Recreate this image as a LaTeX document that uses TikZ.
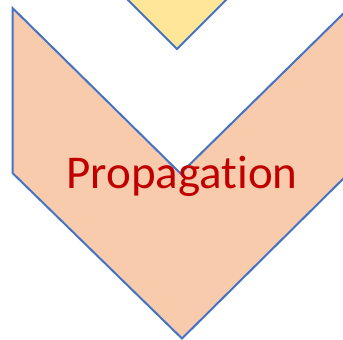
\documentclass[tikz,border=0pt]{standalone}
\usepackage{fontspec}
\setmainfont[RawFeature={-liga;-dlig}]{Carlito}
\definecolor{peach}{HTML}{F8CBAD}
\definecolor{gold}{HTML}{FFE699}
\definecolor{edge}{HTML}{4472C4}
\definecolor{darkred}{HTML}{C00000}
\begin{document}
\begin{tikzpicture}[x=1pt,y=-1pt,
  shapeline/.style={draw=edge,line width=2pt,line join=miter},
  lbl/.style={text=darkred,font=\fontsize{47}{50}\selectfont,anchor=base,inner sep=0pt}]
\useasboundingbox (0,0) rectangle (343,340);
\clip (0,0) rectangle (343,340);
% upper (yellow) chevron tip
\fill[gold] (177,49) -- (100,-28) -- (254,-28) -- cycle;
\draw[shapeline] (100,-28) -- (177,49) -- (254,-28);
% main chevron
\path[shapeline,fill=peach] (12.5,8) -- (180.5,173.5) -- (349,8) -- (349,173) -- (182,338.5) -- (12.5,173) -- cycle;
\node[lbl] (t) at (182,188) {Propagation};
\end{tikzpicture}
\end{document}
